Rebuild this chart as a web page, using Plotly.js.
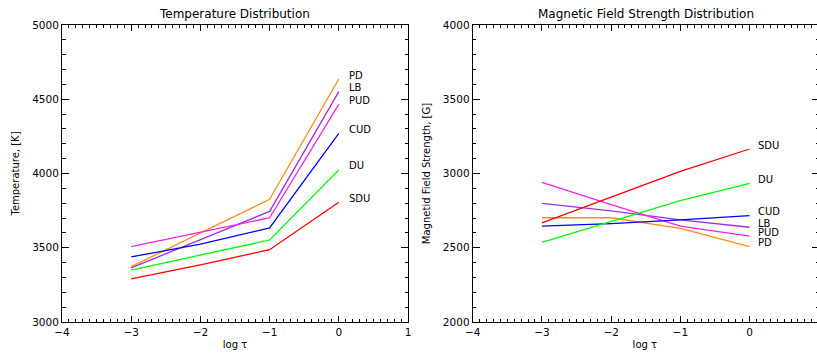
<!DOCTYPE html>
<html>
<head>
<meta charset="utf-8">
<script src="https://cdn.plot.ly/plotly-3.0.1.min.js"></script>
<style>html,body{margin:0;padding:0;background:#fff;}#chart{width:817px;height:356px;}</style>
</head>
<body>
<div id="chart"></div>
<script>
// log tau positions
const logTau = [-3, -2, -1, 0];
const seriesNames = ["PD", "LB", "PUD", "CUD", "DU", "SDU"];
const seriesColors = ["rgb(255,140,20)", "rgb(155,48,225)", "rgb(255,30,230)", "rgb(0,0,255)", "rgb(0,255,0)", "rgb(255,0,0)"];

// Temperature [K]
const tempPD  = [3373, 3600, 3826, 4636];
const tempLB  = [3364, 3555, 3745, 4551];
const tempPUD = [3507, 3605, 3702, 4466];
const tempCUD = [3438, 3525, 3633, 4271];
const tempDU  = [3350, 3449, 3552, 4024];
const tempSDU = [3290, 3384, 3487, 3806];

// Magnetic field strength [G]
const fieldPD  = [2702, 2702, 2630, 2507];
const fieldLB  = [2799, 2748, 2688, 2638];
const fieldPUD = [2941, 2790, 2645, 2579];
const fieldCUD = [2646, 2663, 2688, 2716];
const fieldDU  = [2537, 2675, 2818, 2934];
const fieldSDU = [2667, 2840, 3015, 3165];

const tempSeries = [tempPD, tempLB, tempPUD, tempCUD, tempDU, tempSDU];
const fieldSeries = [fieldPD, fieldLB, fieldPUD, fieldCUD, fieldDU, fieldSDU];

const FONT = "DejaVu Sans, sans-serif";
const traces = [];
const annotations = [];
seriesNames.forEach((name, i) => {
  traces.push({x: logTau, y: tempSeries[i], xaxis: 'x', yaxis: 'y', mode: 'lines',
    line: {color: seriesColors[i], width: 1.3}, name: name, showlegend: false});
  traces.push({x: logTau, y: fieldSeries[i], xaxis: 'x2', yaxis: 'y2', mode: 'lines',
    line: {color: seriesColors[i], width: 1.3}, name: name, showlegend: false});
  const lastT = tempSeries[i][tempSeries[i].length - 1];
  const lastF = fieldSeries[i][fieldSeries[i].length - 1];
  const lastX = logTau[logTau.length - 1];
  annotations.push({x: lastX, y: lastT, xref: 'x', yref: 'y', text: name, showarrow: false,
    xanchor: 'left', yanchor: 'middle', xshift: 8, yshift: 4, font: {family: FONT, size: 10, color: '#000'}});
  annotations.push({x: lastX, y: lastF, xref: 'x2', yref: 'y2', text: name, showarrow: false,
    xanchor: 'left', yanchor: 'middle', xshift: 6, yshift: 4, font: {family: FONT, size: 10, color: '#000'}});
});
// invisible trace so the right-edge tick axis of the second panel is drawn
traces.push({x: logTau, y: fieldSDU, xaxis: 'x2', yaxis: 'y3', mode: 'lines', opacity: 0,
  line: {width: 0}, showlegend: false, hoverinfo: 'skip'});

const commonX = {
  showgrid: false, zeroline: false, showline: true, linecolor: '#000', linewidth: 1, mirror: 'ticks',
  ticks: 'inside', ticklen: 6, tickcolor: '#000', tickwidth: 1, dtick: 1, tick0: 0,
  minor: {dtick: 0.1, ticks: 'inside', ticklen: 3, tickcolor: '#000', tickwidth: 1, showgrid: false},
  tickfont: {family: FONT, size: 10.5, color: '#000'},
  title: {text: 'log \u03c4', font: {family: FONT, size: 10, color: '#000'}, standoff: 4}
};
const commonY = {
  showgrid: false, zeroline: false, showline: true, linecolor: '#000', linewidth: 1, mirror: 'ticks',
  ticks: 'inside', ticklen: 7, tickcolor: '#000', tickwidth: 1, dtick: 500,
  minor: {dtick: 100, ticks: 'inside', ticklen: 3.5, tickcolor: '#000', tickwidth: 1, showgrid: false},
  tickfont: {family: FONT, size: 10.5, color: '#000'}
};

const layout = {
  width: 817, height: 356,
  margin: {l: 0, r: 0, t: 25, b: 34, pad: 0},
  paper_bgcolor: '#fff', plot_bgcolor: '#fff',
  showlegend: false,
  xaxis: Object.assign({}, commonX, {domain: [62/817, 408/817], range: [-4, 1], anchor: 'y'}),
  yaxis: Object.assign({}, commonY, {domain: [0, 1], range: [3000, 5000], anchor: 'x',
    title: {text: 'Temperature, [K]', font: {family: FONT, size: 10, color: '#000'}, standoff: 10}}),
  xaxis2: Object.assign({}, commonX, {domain: [472.7/817, 1], range: [-4, 0.975], anchor: 'y2'}),
  yaxis2: Object.assign({}, commonY, {domain: [0, 1], range: [2000, 4000], anchor: 'x2', mirror: false,
    title: {text: 'Magnetid Field Strength, [G]', font: {family: FONT, size: 10, color: '#000'}, standoff: 10}}),
  yaxis3: {overlaying: 'y2', side: 'right', anchor: 'free', position: 1, range: [2000, 4000],
    showline: false, showgrid: false, zeroline: false, showticklabels: false,
    ticks: 'inside', ticklen: 5, tickcolor: '#000', tickwidth: 1, dtick: 500,
    minor: {dtick: 100, ticks: 'inside', ticklen: 1.5, tickcolor: '#000', tickwidth: 1, showgrid: false}},
  annotations: annotations.concat([
    {text: 'Temperature Distribution', xref: 'paper', yref: 'paper', x: 235/817, y: 1, yshift: 11,
     xanchor: 'center', yanchor: 'middle', showarrow: false, font: {family: FONT, size: 12, color: '#000'}},
    {text: 'Magnetic Field Strength Distribution', xref: 'paper', yref: 'paper', x: 646/817, y: 1, yshift: 11,
     xanchor: 'center', yanchor: 'middle', showarrow: false, font: {family: FONT, size: 12, color: '#000'}}
  ])
};

Plotly.newPlot('chart', traces, layout, {staticPlot: true, displayModeBar: false});
</script>
</body>
</html>
